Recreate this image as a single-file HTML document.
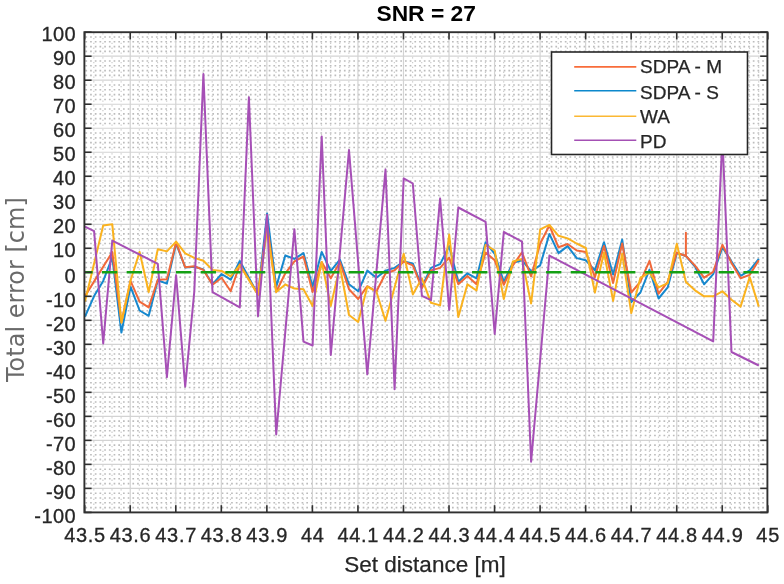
<!DOCTYPE html>
<html><head><meta charset="utf-8"><title>SNR = 27</title><style>
html,body{margin:0;padding:0;background:#fff;}
svg{display:block;}
.mv{stroke:#cbcbcb;stroke-width:1.2;stroke-dasharray:1.3 3.5;}
.mh{stroke:#bcbcbc;stroke-width:1.6;stroke-dasharray:1.7 3.0;}
.mj{stroke:#d3d3d3;stroke-width:1.2;}
.tx{font-family:"Liberation Sans",Arial,sans-serif;font-size:20px;fill:#262626;stroke:#262626;stroke-width:0.3px;letter-spacing:0.7px;}
.ty{font-family:"Liberation Sans",Arial,sans-serif;font-size:20px;fill:#262626;stroke:#262626;stroke-width:0.3px;letter-spacing:0.45px;}
.lg{font-family:"Liberation Sans",Arial,sans-serif;font-size:19px;fill:#262626;stroke:#262626;stroke-width:0.25px;}
</style></head><body>
<svg width="784" height="584" viewBox="0 0 784 584">
<rect width="784" height="584" fill="#fff"/>
<g><line x1="93.81" y1="33.2" x2="93.81" y2="511.4" class="mv"/><line x1="102.92" y1="33.2" x2="102.92" y2="511.4" class="mv"/><line x1="112.02" y1="33.2" x2="112.02" y2="511.4" class="mv"/><line x1="121.13" y1="33.2" x2="121.13" y2="511.4" class="mv"/><line x1="139.35" y1="33.2" x2="139.35" y2="511.4" class="mv"/><line x1="148.46" y1="33.2" x2="148.46" y2="511.4" class="mv"/><line x1="157.56" y1="33.2" x2="157.56" y2="511.4" class="mv"/><line x1="166.67" y1="33.2" x2="166.67" y2="511.4" class="mv"/><line x1="184.89" y1="33.2" x2="184.89" y2="511.4" class="mv"/><line x1="194.00" y1="33.2" x2="194.00" y2="511.4" class="mv"/><line x1="203.10" y1="33.2" x2="203.10" y2="511.4" class="mv"/><line x1="212.21" y1="33.2" x2="212.21" y2="511.4" class="mv"/><line x1="230.43" y1="33.2" x2="230.43" y2="511.4" class="mv"/><line x1="239.54" y1="33.2" x2="239.54" y2="511.4" class="mv"/><line x1="248.64" y1="33.2" x2="248.64" y2="511.4" class="mv"/><line x1="257.75" y1="33.2" x2="257.75" y2="511.4" class="mv"/><line x1="275.97" y1="33.2" x2="275.97" y2="511.4" class="mv"/><line x1="285.08" y1="33.2" x2="285.08" y2="511.4" class="mv"/><line x1="294.18" y1="33.2" x2="294.18" y2="511.4" class="mv"/><line x1="303.29" y1="33.2" x2="303.29" y2="511.4" class="mv"/><line x1="321.51" y1="33.2" x2="321.51" y2="511.4" class="mv"/><line x1="330.62" y1="33.2" x2="330.62" y2="511.4" class="mv"/><line x1="339.72" y1="33.2" x2="339.72" y2="511.4" class="mv"/><line x1="348.83" y1="33.2" x2="348.83" y2="511.4" class="mv"/><line x1="367.05" y1="33.2" x2="367.05" y2="511.4" class="mv"/><line x1="376.16" y1="33.2" x2="376.16" y2="511.4" class="mv"/><line x1="385.26" y1="33.2" x2="385.26" y2="511.4" class="mv"/><line x1="394.37" y1="33.2" x2="394.37" y2="511.4" class="mv"/><line x1="412.59" y1="33.2" x2="412.59" y2="511.4" class="mv"/><line x1="421.70" y1="33.2" x2="421.70" y2="511.4" class="mv"/><line x1="430.80" y1="33.2" x2="430.80" y2="511.4" class="mv"/><line x1="439.91" y1="33.2" x2="439.91" y2="511.4" class="mv"/><line x1="458.13" y1="33.2" x2="458.13" y2="511.4" class="mv"/><line x1="467.24" y1="33.2" x2="467.24" y2="511.4" class="mv"/><line x1="476.34" y1="33.2" x2="476.34" y2="511.4" class="mv"/><line x1="485.45" y1="33.2" x2="485.45" y2="511.4" class="mv"/><line x1="503.67" y1="33.2" x2="503.67" y2="511.4" class="mv"/><line x1="512.78" y1="33.2" x2="512.78" y2="511.4" class="mv"/><line x1="521.88" y1="33.2" x2="521.88" y2="511.4" class="mv"/><line x1="530.99" y1="33.2" x2="530.99" y2="511.4" class="mv"/><line x1="549.21" y1="33.2" x2="549.21" y2="511.4" class="mv"/><line x1="558.32" y1="33.2" x2="558.32" y2="511.4" class="mv"/><line x1="567.42" y1="33.2" x2="567.42" y2="511.4" class="mv"/><line x1="576.53" y1="33.2" x2="576.53" y2="511.4" class="mv"/><line x1="594.75" y1="33.2" x2="594.75" y2="511.4" class="mv"/><line x1="603.86" y1="33.2" x2="603.86" y2="511.4" class="mv"/><line x1="612.96" y1="33.2" x2="612.96" y2="511.4" class="mv"/><line x1="622.07" y1="33.2" x2="622.07" y2="511.4" class="mv"/><line x1="640.29" y1="33.2" x2="640.29" y2="511.4" class="mv"/><line x1="649.40" y1="33.2" x2="649.40" y2="511.4" class="mv"/><line x1="658.50" y1="33.2" x2="658.50" y2="511.4" class="mv"/><line x1="667.61" y1="33.2" x2="667.61" y2="511.4" class="mv"/><line x1="685.83" y1="33.2" x2="685.83" y2="511.4" class="mv"/><line x1="694.94" y1="33.2" x2="694.94" y2="511.4" class="mv"/><line x1="704.04" y1="33.2" x2="704.04" y2="511.4" class="mv"/><line x1="713.15" y1="33.2" x2="713.15" y2="511.4" class="mv"/><line x1="731.37" y1="33.2" x2="731.37" y2="511.4" class="mv"/><line x1="740.48" y1="33.2" x2="740.48" y2="511.4" class="mv"/><line x1="749.58" y1="33.2" x2="749.58" y2="511.4" class="mv"/><line x1="758.69" y1="33.2" x2="758.69" y2="511.4" class="mv"/><line x1="85.4" y1="507.60" x2="766.4" y2="507.60" class="mh"/><line x1="85.4" y1="502.80" x2="766.4" y2="502.80" class="mh"/><line x1="85.4" y1="497.99" x2="766.4" y2="497.99" class="mh"/><line x1="85.4" y1="493.19" x2="766.4" y2="493.19" class="mh"/><line x1="85.4" y1="483.59" x2="766.4" y2="483.59" class="mh"/><line x1="85.4" y1="478.79" x2="766.4" y2="478.79" class="mh"/><line x1="85.4" y1="473.98" x2="766.4" y2="473.98" class="mh"/><line x1="85.4" y1="469.18" x2="766.4" y2="469.18" class="mh"/><line x1="85.4" y1="459.58" x2="766.4" y2="459.58" class="mh"/><line x1="85.4" y1="454.78" x2="766.4" y2="454.78" class="mh"/><line x1="85.4" y1="449.97" x2="766.4" y2="449.97" class="mh"/><line x1="85.4" y1="445.17" x2="766.4" y2="445.17" class="mh"/><line x1="85.4" y1="435.57" x2="766.4" y2="435.57" class="mh"/><line x1="85.4" y1="430.77" x2="766.4" y2="430.77" class="mh"/><line x1="85.4" y1="425.96" x2="766.4" y2="425.96" class="mh"/><line x1="85.4" y1="421.16" x2="766.4" y2="421.16" class="mh"/><line x1="85.4" y1="411.56" x2="766.4" y2="411.56" class="mh"/><line x1="85.4" y1="406.76" x2="766.4" y2="406.76" class="mh"/><line x1="85.4" y1="401.95" x2="766.4" y2="401.95" class="mh"/><line x1="85.4" y1="397.15" x2="766.4" y2="397.15" class="mh"/><line x1="85.4" y1="387.55" x2="766.4" y2="387.55" class="mh"/><line x1="85.4" y1="382.75" x2="766.4" y2="382.75" class="mh"/><line x1="85.4" y1="377.94" x2="766.4" y2="377.94" class="mh"/><line x1="85.4" y1="373.14" x2="766.4" y2="373.14" class="mh"/><line x1="85.4" y1="363.54" x2="766.4" y2="363.54" class="mh"/><line x1="85.4" y1="358.74" x2="766.4" y2="358.74" class="mh"/><line x1="85.4" y1="353.93" x2="766.4" y2="353.93" class="mh"/><line x1="85.4" y1="349.13" x2="766.4" y2="349.13" class="mh"/><line x1="85.4" y1="339.53" x2="766.4" y2="339.53" class="mh"/><line x1="85.4" y1="334.73" x2="766.4" y2="334.73" class="mh"/><line x1="85.4" y1="329.92" x2="766.4" y2="329.92" class="mh"/><line x1="85.4" y1="325.12" x2="766.4" y2="325.12" class="mh"/><line x1="85.4" y1="315.52" x2="766.4" y2="315.52" class="mh"/><line x1="85.4" y1="310.72" x2="766.4" y2="310.72" class="mh"/><line x1="85.4" y1="305.91" x2="766.4" y2="305.91" class="mh"/><line x1="85.4" y1="301.11" x2="766.4" y2="301.11" class="mh"/><line x1="85.4" y1="291.51" x2="766.4" y2="291.51" class="mh"/><line x1="85.4" y1="286.71" x2="766.4" y2="286.71" class="mh"/><line x1="85.4" y1="281.90" x2="766.4" y2="281.90" class="mh"/><line x1="85.4" y1="277.10" x2="766.4" y2="277.10" class="mh"/><line x1="85.4" y1="267.50" x2="766.4" y2="267.50" class="mh"/><line x1="85.4" y1="262.70" x2="766.4" y2="262.70" class="mh"/><line x1="85.4" y1="257.89" x2="766.4" y2="257.89" class="mh"/><line x1="85.4" y1="253.09" x2="766.4" y2="253.09" class="mh"/><line x1="85.4" y1="243.49" x2="766.4" y2="243.49" class="mh"/><line x1="85.4" y1="238.69" x2="766.4" y2="238.69" class="mh"/><line x1="85.4" y1="233.88" x2="766.4" y2="233.88" class="mh"/><line x1="85.4" y1="229.08" x2="766.4" y2="229.08" class="mh"/><line x1="85.4" y1="219.48" x2="766.4" y2="219.48" class="mh"/><line x1="85.4" y1="214.68" x2="766.4" y2="214.68" class="mh"/><line x1="85.4" y1="209.87" x2="766.4" y2="209.87" class="mh"/><line x1="85.4" y1="205.07" x2="766.4" y2="205.07" class="mh"/><line x1="85.4" y1="195.47" x2="766.4" y2="195.47" class="mh"/><line x1="85.4" y1="190.67" x2="766.4" y2="190.67" class="mh"/><line x1="85.4" y1="185.86" x2="766.4" y2="185.86" class="mh"/><line x1="85.4" y1="181.06" x2="766.4" y2="181.06" class="mh"/><line x1="85.4" y1="171.46" x2="766.4" y2="171.46" class="mh"/><line x1="85.4" y1="166.66" x2="766.4" y2="166.66" class="mh"/><line x1="85.4" y1="161.85" x2="766.4" y2="161.85" class="mh"/><line x1="85.4" y1="157.05" x2="766.4" y2="157.05" class="mh"/><line x1="85.4" y1="147.45" x2="766.4" y2="147.45" class="mh"/><line x1="85.4" y1="142.65" x2="766.4" y2="142.65" class="mh"/><line x1="85.4" y1="137.84" x2="766.4" y2="137.84" class="mh"/><line x1="85.4" y1="133.04" x2="766.4" y2="133.04" class="mh"/><line x1="85.4" y1="123.44" x2="766.4" y2="123.44" class="mh"/><line x1="85.4" y1="118.64" x2="766.4" y2="118.64" class="mh"/><line x1="85.4" y1="113.83" x2="766.4" y2="113.83" class="mh"/><line x1="85.4" y1="109.03" x2="766.4" y2="109.03" class="mh"/><line x1="85.4" y1="99.43" x2="766.4" y2="99.43" class="mh"/><line x1="85.4" y1="94.63" x2="766.4" y2="94.63" class="mh"/><line x1="85.4" y1="89.82" x2="766.4" y2="89.82" class="mh"/><line x1="85.4" y1="85.02" x2="766.4" y2="85.02" class="mh"/><line x1="85.4" y1="75.42" x2="766.4" y2="75.42" class="mh"/><line x1="85.4" y1="70.62" x2="766.4" y2="70.62" class="mh"/><line x1="85.4" y1="65.81" x2="766.4" y2="65.81" class="mh"/><line x1="85.4" y1="61.01" x2="766.4" y2="61.01" class="mh"/><line x1="85.4" y1="51.41" x2="766.4" y2="51.41" class="mh"/><line x1="85.4" y1="46.61" x2="766.4" y2="46.61" class="mh"/><line x1="85.4" y1="41.80" x2="766.4" y2="41.80" class="mh"/><line x1="85.4" y1="37.00" x2="766.4" y2="37.00" class="mh"/><line x1="130.24" y1="32.2" x2="130.24" y2="512.4" class="mj"/><line x1="175.78" y1="32.2" x2="175.78" y2="512.4" class="mj"/><line x1="221.32" y1="32.2" x2="221.32" y2="512.4" class="mj"/><line x1="266.86" y1="32.2" x2="266.86" y2="512.4" class="mj"/><line x1="312.40" y1="32.2" x2="312.40" y2="512.4" class="mj"/><line x1="357.94" y1="32.2" x2="357.94" y2="512.4" class="mj"/><line x1="403.48" y1="32.2" x2="403.48" y2="512.4" class="mj"/><line x1="449.02" y1="32.2" x2="449.02" y2="512.4" class="mj"/><line x1="494.56" y1="32.2" x2="494.56" y2="512.4" class="mj"/><line x1="540.10" y1="32.2" x2="540.10" y2="512.4" class="mj"/><line x1="585.64" y1="32.2" x2="585.64" y2="512.4" class="mj"/><line x1="631.18" y1="32.2" x2="631.18" y2="512.4" class="mj"/><line x1="676.72" y1="32.2" x2="676.72" y2="512.4" class="mj"/><line x1="722.26" y1="32.2" x2="722.26" y2="512.4" class="mj"/><line x1="84.4" y1="488.39" x2="767.4" y2="488.39" class="mj"/><line x1="84.4" y1="464.38" x2="767.4" y2="464.38" class="mj"/><line x1="84.4" y1="440.37" x2="767.4" y2="440.37" class="mj"/><line x1="84.4" y1="416.36" x2="767.4" y2="416.36" class="mj"/><line x1="84.4" y1="392.35" x2="767.4" y2="392.35" class="mj"/><line x1="84.4" y1="368.34" x2="767.4" y2="368.34" class="mj"/><line x1="84.4" y1="344.33" x2="767.4" y2="344.33" class="mj"/><line x1="84.4" y1="320.32" x2="767.4" y2="320.32" class="mj"/><line x1="84.4" y1="296.31" x2="767.4" y2="296.31" class="mj"/><line x1="84.4" y1="272.30" x2="767.4" y2="272.30" class="mj"/><line x1="84.4" y1="248.29" x2="767.4" y2="248.29" class="mj"/><line x1="84.4" y1="224.28" x2="767.4" y2="224.28" class="mj"/><line x1="84.4" y1="200.27" x2="767.4" y2="200.27" class="mj"/><line x1="84.4" y1="176.26" x2="767.4" y2="176.26" class="mj"/><line x1="84.4" y1="152.25" x2="767.4" y2="152.25" class="mj"/><line x1="84.4" y1="128.24" x2="767.4" y2="128.24" class="mj"/><line x1="84.4" y1="104.23" x2="767.4" y2="104.23" class="mj"/><line x1="84.4" y1="80.22" x2="767.4" y2="80.22" class="mj"/><line x1="84.4" y1="56.21" x2="767.4" y2="56.21" class="mj"/></g>
<g><polyline points="85.0,316.7 94.1,296.1 103.2,280.9 112.3,257.4 121.4,332.6 130.5,286.7 139.6,310.5 148.7,315.8 157.8,280.2 166.9,283.6 176.1,243.5 185.2,267.5 194.3,266.8 203.4,269.4 212.5,284.3 221.6,274.0 230.7,279.7 239.8,261.0 258.0,294.6 267.1,213.5 276.2,286.9 285.3,255.5 294.4,258.9 303.5,253.1 312.6,286.7 321.7,251.9 330.8,270.9 339.9,259.6 349.0,284.3 358.2,291.3 367.3,270.6 376.4,277.8 385.5,270.6 394.6,267.9 403.7,261.5 412.8,263.4 421.9,286.7 431.0,267.9 440.1,264.1 449.2,246.1 458.3,281.7 467.4,273.3 476.5,278.3 485.6,242.3 494.7,253.8 503.8,281.9 512.9,262.7 522.0,260.3 531.1,271.1 540.2,265.3 549.4,233.9 558.5,253.1 567.6,246.1 576.7,258.1 585.8,260.3 594.9,270.4 604.0,242.3 613.1,274.5 622.2,239.6 631.3,302.1 640.4,292.5 649.5,269.7 658.6,298.5 667.7,287.4 676.8,253.1 685.9,256.0 695.0,266.5 704.1,284.3 713.2,274.2 722.4,247.3 731.5,261.5 740.6,275.9 749.7,270.4 758.8,258.9" fill="none" stroke="#1688CE" stroke-width="2.0" stroke-linejoin="round"/><polyline points="85.0,296.1 112.3,252.1 121.4,322.2 130.5,280.9 139.6,301.6 148.7,307.4 157.8,279.7 166.9,279.3 176.1,242.3 185.2,267.3 194.3,266.3 203.4,269.9 212.5,284.8 221.6,277.8 230.7,291.3 239.8,264.4 258.0,294.6 267.1,224.3 276.2,291.7 285.3,273.3 294.4,261.3 303.5,256.5 312.6,292.0 321.7,262.0 330.8,278.3 339.9,262.0 349.0,289.3 358.2,299.0 367.3,286.2 376.4,291.5 385.5,273.5 394.6,270.3 403.7,261.5 412.8,265.3 421.9,288.1 431.0,270.4 440.1,267.9 449.2,257.7 458.3,284.3 467.4,275.9 476.5,284.2 485.6,252.4 494.7,260.3 503.8,284.8 512.9,265.3 522.0,252.4 531.1,276.4 540.2,243.5 549.4,225.5 558.5,247.3 567.6,244.0 576.7,250.5 585.8,251.9 594.9,277.1 604.0,245.9 613.1,282.9 622.2,243.5 631.3,292.5 640.4,281.7 649.5,260.8 658.6,293.7 667.7,281.9 676.8,252.6 685.9,256.0 685.9,232.7 685.9,256.0 695.0,265.6 704.1,277.6 713.2,271.8 722.4,244.7 731.5,262.9 740.6,278.3 749.7,274.9 758.8,260.3" fill="none" stroke="#F0683A" stroke-width="2.0" stroke-linejoin="round"/><polyline points="85.0,301.6 103.2,225.5 112.3,224.3 121.4,322.7 130.5,280.7 139.6,251.9 148.7,292.0 157.8,249.3 166.9,251.4 176.1,241.6 185.2,253.3 194.3,257.9 203.4,260.8 212.5,269.9 221.6,270.9 230.7,276.4 239.8,265.1 258.0,294.6 267.1,229.1 276.2,292.0 285.3,284.5 294.4,288.6 303.5,289.3 312.6,305.9 321.7,262.0 330.8,305.9 339.9,266.3 349.0,315.0 358.2,322.0 367.3,286.7 376.4,291.7 385.5,320.8 403.7,253.8 412.8,294.4 421.9,278.3 431.0,302.8 440.1,305.4 449.2,234.6 458.3,317.0 467.4,284.3 476.5,290.5 485.6,244.9 494.7,250.5 503.8,299.0 512.9,261.5 522.0,258.9 531.1,303.5 540.2,229.3 549.4,224.9 558.5,235.8 567.6,238.4 576.7,243.5 585.8,248.0 594.9,292.5 604.0,252.4 613.1,300.9 622.2,253.8 631.3,313.1 640.4,277.8 649.5,272.3 658.6,287.4 667.7,283.1 676.8,243.7 685.9,281.9 695.0,290.3 704.1,296.3 713.2,296.3 722.4,291.3 731.5,299.7 740.6,306.6 749.7,277.1 758.8,306.6" fill="none" stroke="#FAB21E" stroke-width="2.0" stroke-linejoin="round"/><polyline points="85.0,226.7 94.1,231.2 103.2,343.4 112.3,240.6 157.8,263.9 166.9,377.2 176.1,275.2 185.2,386.6 194.3,291.5 203.4,74.0 212.5,292.2 239.8,307.4 248.9,97.3 258.0,316.2 267.1,214.7 276.2,434.4 294.4,229.3 303.5,341.7 312.6,345.5 321.7,136.4 330.8,354.9 349.0,150.1 367.3,374.3 385.5,169.5 394.6,389.2 403.7,178.4 412.8,183.5 421.9,295.8 431.0,300.2 440.1,198.6 449.2,309.8 458.3,207.5 485.6,221.9 494.7,334.0 503.8,232.0 522.0,241.6 531.1,461.7 549.4,255.7 713.2,341.4 722.4,137.8 731.5,352.0 758.8,365.5" fill="none" stroke="#A64FB6" stroke-width="2.0" stroke-linejoin="round"/></g>
<line x1="84.4" y1="272.30" x2="759" y2="272.30" stroke="#14A014" stroke-width="2.4" stroke-dasharray="15.3 9.37" stroke-dashoffset="7.07"/>
<g stroke="#303030" stroke-width="1.6"><line x1="84.70" y1="512.4" x2="84.70" y2="505.2"/><line x1="84.70" y1="32.2" x2="84.70" y2="39.4"/><line x1="130.24" y1="512.4" x2="130.24" y2="505.2"/><line x1="130.24" y1="32.2" x2="130.24" y2="39.4"/><line x1="175.78" y1="512.4" x2="175.78" y2="505.2"/><line x1="175.78" y1="32.2" x2="175.78" y2="39.4"/><line x1="221.32" y1="512.4" x2="221.32" y2="505.2"/><line x1="221.32" y1="32.2" x2="221.32" y2="39.4"/><line x1="266.86" y1="512.4" x2="266.86" y2="505.2"/><line x1="266.86" y1="32.2" x2="266.86" y2="39.4"/><line x1="312.40" y1="512.4" x2="312.40" y2="505.2"/><line x1="312.40" y1="32.2" x2="312.40" y2="39.4"/><line x1="357.94" y1="512.4" x2="357.94" y2="505.2"/><line x1="357.94" y1="32.2" x2="357.94" y2="39.4"/><line x1="403.48" y1="512.4" x2="403.48" y2="505.2"/><line x1="403.48" y1="32.2" x2="403.48" y2="39.4"/><line x1="449.02" y1="512.4" x2="449.02" y2="505.2"/><line x1="449.02" y1="32.2" x2="449.02" y2="39.4"/><line x1="494.56" y1="512.4" x2="494.56" y2="505.2"/><line x1="494.56" y1="32.2" x2="494.56" y2="39.4"/><line x1="540.10" y1="512.4" x2="540.10" y2="505.2"/><line x1="540.10" y1="32.2" x2="540.10" y2="39.4"/><line x1="585.64" y1="512.4" x2="585.64" y2="505.2"/><line x1="585.64" y1="32.2" x2="585.64" y2="39.4"/><line x1="631.18" y1="512.4" x2="631.18" y2="505.2"/><line x1="631.18" y1="32.2" x2="631.18" y2="39.4"/><line x1="676.72" y1="512.4" x2="676.72" y2="505.2"/><line x1="676.72" y1="32.2" x2="676.72" y2="39.4"/><line x1="722.26" y1="512.4" x2="722.26" y2="505.2"/><line x1="722.26" y1="32.2" x2="722.26" y2="39.4"/><line x1="767.80" y1="512.4" x2="767.80" y2="505.2"/><line x1="767.80" y1="32.2" x2="767.80" y2="39.4"/><line x1="84.4" y1="512.40" x2="91.6" y2="512.40"/><line x1="767.4" y1="512.40" x2="760.2" y2="512.40"/><line x1="84.4" y1="488.39" x2="91.6" y2="488.39"/><line x1="767.4" y1="488.39" x2="760.2" y2="488.39"/><line x1="84.4" y1="464.38" x2="91.6" y2="464.38"/><line x1="767.4" y1="464.38" x2="760.2" y2="464.38"/><line x1="84.4" y1="440.37" x2="91.6" y2="440.37"/><line x1="767.4" y1="440.37" x2="760.2" y2="440.37"/><line x1="84.4" y1="416.36" x2="91.6" y2="416.36"/><line x1="767.4" y1="416.36" x2="760.2" y2="416.36"/><line x1="84.4" y1="392.35" x2="91.6" y2="392.35"/><line x1="767.4" y1="392.35" x2="760.2" y2="392.35"/><line x1="84.4" y1="368.34" x2="91.6" y2="368.34"/><line x1="767.4" y1="368.34" x2="760.2" y2="368.34"/><line x1="84.4" y1="344.33" x2="91.6" y2="344.33"/><line x1="767.4" y1="344.33" x2="760.2" y2="344.33"/><line x1="84.4" y1="320.32" x2="91.6" y2="320.32"/><line x1="767.4" y1="320.32" x2="760.2" y2="320.32"/><line x1="84.4" y1="296.31" x2="91.6" y2="296.31"/><line x1="767.4" y1="296.31" x2="760.2" y2="296.31"/><line x1="84.4" y1="272.30" x2="91.6" y2="272.30"/><line x1="767.4" y1="272.30" x2="760.2" y2="272.30"/><line x1="84.4" y1="248.29" x2="91.6" y2="248.29"/><line x1="767.4" y1="248.29" x2="760.2" y2="248.29"/><line x1="84.4" y1="224.28" x2="91.6" y2="224.28"/><line x1="767.4" y1="224.28" x2="760.2" y2="224.28"/><line x1="84.4" y1="200.27" x2="91.6" y2="200.27"/><line x1="767.4" y1="200.27" x2="760.2" y2="200.27"/><line x1="84.4" y1="176.26" x2="91.6" y2="176.26"/><line x1="767.4" y1="176.26" x2="760.2" y2="176.26"/><line x1="84.4" y1="152.25" x2="91.6" y2="152.25"/><line x1="767.4" y1="152.25" x2="760.2" y2="152.25"/><line x1="84.4" y1="128.24" x2="91.6" y2="128.24"/><line x1="767.4" y1="128.24" x2="760.2" y2="128.24"/><line x1="84.4" y1="104.23" x2="91.6" y2="104.23"/><line x1="767.4" y1="104.23" x2="760.2" y2="104.23"/><line x1="84.4" y1="80.22" x2="91.6" y2="80.22"/><line x1="767.4" y1="80.22" x2="760.2" y2="80.22"/><line x1="84.4" y1="56.21" x2="91.6" y2="56.21"/><line x1="767.4" y1="56.21" x2="760.2" y2="56.21"/><line x1="84.4" y1="32.20" x2="91.6" y2="32.20"/><line x1="767.4" y1="32.20" x2="760.2" y2="32.20"/></g>
<rect x="84.4" y="32.2" width="683.0" height="480.2" fill="none" stroke="#303030" stroke-width="1.9"/>
<rect x="551.5" y="52" width="196" height="102.5" fill="#fff" stroke="#262626" stroke-width="1.6"/>
<line x1="574.2" y1="66.9" x2="636.3" y2="66.9" stroke="#F86C3A" stroke-width="1.6"/>
<line x1="574.2" y1="90.7" x2="636.3" y2="90.7" stroke="#0C88CC" stroke-width="1.6"/>
<line x1="574.2" y1="116.3" x2="636.3" y2="116.3" stroke="#FBB833" stroke-width="1.6"/>
<line x1="574.2" y1="140.3" x2="636.3" y2="140.3" stroke="#A450B4" stroke-width="1.6"/>
<text x="640" y="73.2" class="lg">SDPA - M</text>
<text x="640" y="99.4" class="lg">SDPA - S</text>
<text x="640" y="123.1" class="lg">WA</text>
<text x="640" y="148.2" class="lg">PD</text>
<g><text x="85.05" y="542" text-anchor="middle" class="tx">43.5</text><text x="130.59" y="542" text-anchor="middle" class="tx">43.6</text><text x="176.13" y="542" text-anchor="middle" class="tx">43.7</text><text x="221.67" y="542" text-anchor="middle" class="tx">43.8</text><text x="267.21" y="542" text-anchor="middle" class="tx">43.9</text><text x="312.75" y="542" text-anchor="middle" class="tx">44</text><text x="358.29" y="542" text-anchor="middle" class="tx">44.1</text><text x="403.83" y="542" text-anchor="middle" class="tx">44.2</text><text x="449.37" y="542" text-anchor="middle" class="tx">44.3</text><text x="494.91" y="542" text-anchor="middle" class="tx">44.4</text><text x="540.45" y="542" text-anchor="middle" class="tx">44.5</text><text x="585.99" y="542" text-anchor="middle" class="tx">44.6</text><text x="631.53" y="542" text-anchor="middle" class="tx">44.7</text><text x="677.07" y="542" text-anchor="middle" class="tx">44.8</text><text x="722.61" y="542" text-anchor="middle" class="tx">44.9</text><text x="768.15" y="542" text-anchor="middle" class="tx">45</text><text x="76.2" y="522.70" text-anchor="end" class="ty">-100</text><text x="76.2" y="498.69" text-anchor="end" class="ty">-90</text><text x="76.2" y="474.68" text-anchor="end" class="ty">-80</text><text x="76.2" y="450.67" text-anchor="end" class="ty">-70</text><text x="76.2" y="426.66" text-anchor="end" class="ty">-60</text><text x="76.2" y="402.65" text-anchor="end" class="ty">-50</text><text x="76.2" y="378.64" text-anchor="end" class="ty">-40</text><text x="76.2" y="354.63" text-anchor="end" class="ty">-30</text><text x="76.2" y="330.62" text-anchor="end" class="ty">-20</text><text x="76.2" y="306.61" text-anchor="end" class="ty">-10</text><text x="76.2" y="282.60" text-anchor="end" class="ty">0</text><text x="76.2" y="256.89" text-anchor="end" class="ty">10</text><text x="76.2" y="232.88" text-anchor="end" class="ty">20</text><text x="76.2" y="208.87" text-anchor="end" class="ty">30</text><text x="76.2" y="184.86" text-anchor="end" class="ty">40</text><text x="76.2" y="160.85" text-anchor="end" class="ty">50</text><text x="76.2" y="136.84" text-anchor="end" class="ty">60</text><text x="76.2" y="112.83" text-anchor="end" class="ty">70</text><text x="76.2" y="88.82" text-anchor="end" class="ty">80</text><text x="76.2" y="64.81" text-anchor="end" class="ty">90</text><text x="76.2" y="40.80" text-anchor="end" class="ty">100</text></g>
<text x="426.2" y="20.5" text-anchor="middle" font-family="Liberation Sans, Arial, sans-serif" font-weight="bold" font-size="22.8" fill="#000">SNR = 27</text>
<text x="425" y="572" text-anchor="middle" font-family="Liberation Sans, Arial, sans-serif" font-size="22.5" fill="#262626" stroke="#262626" stroke-width="0.25">Set distance [m]</text>
<text transform="translate(24.4,289.6) rotate(-90)" text-anchor="middle" font-family="DejaVu Sans, sans-serif" font-size="24" fill="#6a6a6a">Total error [cm]</text>
</svg>
</body></html>
